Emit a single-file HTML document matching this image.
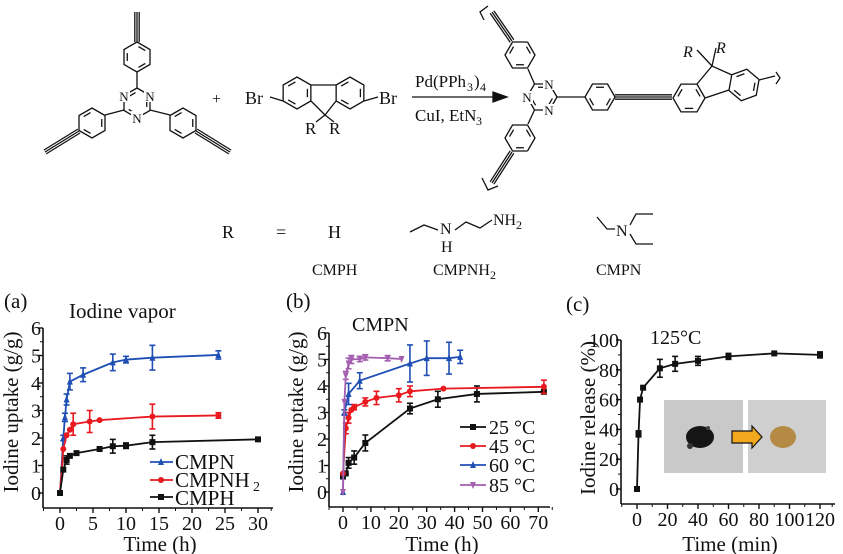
<!DOCTYPE html>
<html><head><meta charset="utf-8"><style>
html,body{margin:0;padding:0;background:#fff;font-family:"Liberation Serif","Times New Roman","Nimbus Roman",serif}
svg{display:block}
svg text{font-family:"Liberation Serif","Times New Roman","Nimbus Roman",serif;fill:#111}
</style></head><body>
<svg id="s" width="843" height="554" viewBox="0 0 843 554" xmlns="http://www.w3.org/2000/svg" font-family="Liberation Serif, Times New Roman, serif">
<g id="chem" stroke="#111" stroke-width="1.3" fill="none"></g>
<g text-anchor="middle" font-size="13">
<rect x="118" y="89" width="12" height="13" fill="#fff"/><rect x="144" y="89" width="12" height="13" fill="#fff"/><rect x="131" y="111" width="12" height="13" fill="#fff"/>
<text x="124" y="101">N</text><text x="150" y="101">N</text><text x="137" y="123">N</text>
<rect x="543" y="77" width="12" height="13" fill="#fff"/><rect x="543" y="104" width="12" height="13" fill="#fff"/><rect x="521" y="91" width="12" height="13" fill="#fff"/>
<text x="549" y="89">N</text><text x="549" y="115">N</text><text x="527" y="102">N</text>
</g>
<text x="212" y="104" font-size="16">+</text>
<text x="245" y="104" font-size="18">Br</text><text x="379" y="104" font-size="18">Br</text>
<text x="305" y="134" font-size="17">R</text><text x="329" y="134" font-size="17">R</text>
<text x="415" y="87" font-size="17">Pd(PPh</text><text x="467" y="91" font-size="12">3</text><text x="474" y="87" font-size="17">)</text><text x="480" y="91" font-size="12">4</text>
<text x="415" y="121" font-size="17">CuI, EtN</text><text x="476" y="125" font-size="12">3</text>
<text x="683" y="57" font-size="16" font-style="italic">R</text><text x="716" y="53" font-size="16" font-style="italic">R</text>
<text x="222" y="238" font-size="18">R</text><text x="276" y="238" font-size="18">=</text><text x="328" y="238" font-size="18">H</text>
<text x="440" y="234" font-size="16">N</text><text x="441" y="252" font-size="16">H</text>
<text x="493" y="225" font-size="16">NH</text><text x="516" y="229" font-size="12">2</text>
<text x="616" y="236" font-size="16">N</text>
<text x="312" y="275" font-size="16">CMPH</text><text x="433" y="275" font-size="16">CMPNH</text><text x="490" y="279" font-size="12">2</text><text x="596" y="275" font-size="16">CMPN</text>

<text x="4" y="308" font-size="21">(a)</text>
<text x="69" y="318" font-size="21">Iodine vapor</text>
<text x="286" y="308" font-size="21">(b)</text>
<text x="352" y="331" font-size="20">CMPN</text>
<text x="566" y="311" font-size="21">(c)</text>
<text x="650" y="344" font-size="20">125°C</text>
<text transform="translate(18,412) rotate(-90)" text-anchor="middle" font-size="21">Iodine uptake (g/g)</text>
<text transform="translate(303,412) rotate(-90)" text-anchor="middle" font-size="21">Iodine uptake (g/g)</text>
<text transform="translate(595,418) rotate(-90)" text-anchor="middle" font-size="21">Iodine release (%)</text>
<text x="160" y="551" text-anchor="middle" font-size="21">Time (h)</text>
<text x="442" y="551" text-anchor="middle" font-size="21">Time (h)</text>
<text x="730" y="551" text-anchor="middle" font-size="21">Time (min)</text>
<text x="175" y="469" font-size="21">CMPN</text>
<text x="175" y="487" font-size="21">CMPNH</text><text x="253" y="491" font-size="14">2</text>
<text x="175" y="505" font-size="21">CMPH</text>
<text x="489" y="434" font-size="20">25 °C</text>
<text x="489" y="453" font-size="20">45 °C</text>
<text x="489" y="472" font-size="20">60 °C</text>
<text x="489" y="492" font-size="20">85 °C</text>
<g id="ticks" font-size="20"></g>
<rect x="664" y="400" width="79" height="73" fill="#c9c9c9"/>
<rect x="748" y="400" width="78" height="73" fill="#cfcfcf"/>
<ellipse cx="700" cy="437" rx="14" ry="11" fill="#151515"/>
<circle cx="690" cy="446" r="3" fill="#333"/><circle cx="708" cy="428" r="2" fill="#444"/>
<ellipse cx="783" cy="437" rx="13" ry="11" fill="#b48a44"/>
<polygon points="732,431 752,431 752,426 762,437 752,448 752,443 732,443" fill="#f2a81d" stroke="#111" stroke-width="1.2"/>
<g id="plots"></g>
</svg>
<script>
const NS="http://www.w3.org/2000/svg";
function el(p,t,a){const e=document.createElementNS(NS,t);for(const k in a)e.setAttribute(k,a[k]);p.appendChild(e);return e;}
const chem=document.getElementById('chem');
function L(pts){el(chem,'polyline',{points:pts.map(p=>p.join(',')).join(' ')});}
function hex(cx,cy,r,rot,inner){const v=[];for(let i=0;i<6;i++){const a=(rot+60*i)*Math.PI/180;v.push([cx+r*Math.cos(a),cy+r*Math.sin(a)]);}
 L([...v,v[0]]);
 if(inner){for(const i of inner){const a=v[i],b=v[(i+1)%6];const s=0.75;const ax=cx+(a[0]-cx)*s,ay=cy+(a[1]-cy)*s,bx=cx+(b[0]-cx)*s,by=cy+(b[1]-cy)*s;
  L([[ax+(bx-ax)*.15,ay+(by-ay)*.15],[ax+(bx-ax)*.85,ay+(by-ay)*.85]]);}}return v;}
function tri(x1,y1,x2,y2){const dx=x2-x1,dy=y2-y1,l=Math.hypot(dx,dy),nx=-dy/l*2.2,ny=dx/l*2.2;
 L([[x1,y1],[x2,y2]]);L([[x1+nx,y1+ny],[x2+nx,y2+ny]]);L([[x1-nx,y1-ny],[x2-nx,y2-ny]]);}
hex(137,103,15,-90,[1,3,5]);
hex(137,57,15,-90,[0,2,4]); L([[137,88],[137,72]]); tri(137,42,137,12);
hex(92,123,15,-30,[0,2,4]); L([[124,110],[105,115]]); tri(79,131,45,152);
hex(183,123,15,-150,[0,2,4]); L([[150,110],[170,115]]); tri(196,131,230,152);
hex(297,93,16,-30,[0,2,4]); hex(350,93,16,-150,[0,2,4]);
L([[311,85],[336,85]]);
L([[311,101],[325,115],[336,101]]); L([[283,101],[270,97]]); L([[364,101],[378,97]]);
L([[325,115],[316,122]]);L([[325,115],[334,122]]);
L([[412,97],[500,97]]); el(chem,'polygon',{points:'507,97 493,92 493,102',fill:'#111'});
hex(542,97,15,0,[0,2,4]);
hex(600,97,15,0,[0,2,4]); L([[557,97],[585,97]]); tri(615,97,672,97);
hex(520,55,15,-60,[0,2,4]); L([[534.5,84],[528,69]]); tri(512,41,492,12);
hex(520,138,15,60,[0,2,4]); L([[534.5,110],[528,124]]); tri(512,152,492,183);
L([[488,6],[480,12],[484,20]]); L([[482,178],[488,190],[498,186]]);
hex(689,98,16,0,[1,3,5]); hex(744,85,16,-20,[0,2,4]);
L([[697,84],[712,66],[732,75]]); L([[705,98],[729,90]]);
L([[712,66],[697,50]]); L([[712,66],[716,48]]);
L([[759,80],[775,76]]); L([[776,72],[780,78],[776,84]]);
L([[410,232],[424,225],[438,230]]); L([[455,230],[466,222],[480,228],[492,220]]);
L([[597,217],[607,229],[615,229]]); L([[630,225],[636,214],[653,214]]); L([[630,234],[636,244],[653,244]]);

const P=document.getElementById('plots'),T=document.getElementById('ticks');
function axes(x0,yb,ytop,xr,xt,yt,minorX,minorY){
 el(P,'line',{x1:x0,y1:ytop,x2:x0,y2:yb,stroke:'#111','stroke-width':1.6});
 el(P,'line',{x1:x0,y1:yb,x2:xr,y2:yb,stroke:'#111','stroke-width':1.6});
 xt.forEach(([x,l])=>{el(P,'line',{x1:x,y1:yb,x2:x,y2:yb+5,stroke:'#111','stroke-width':1.4});const t=el(T,'text',{x:x,y:yb+22,'text-anchor':'middle'});t.textContent=l;});
 yt.forEach(([y,l])=>{el(P,'line',{x1:x0-5,y1:y,x2:x0,y2:y,stroke:'#111','stroke-width':1.4});const t=el(T,'text',{x:x0-2,y:y+7,'text-anchor':'end'});t.textContent=l;});
 minorX.forEach(x=>el(P,'line',{x1:x,y1:yb,x2:x,y2:yb+3,stroke:'#111','stroke-width':1}));
 minorY.forEach(y=>el(P,'line',{x1:x0-3,y1:y,x2:x0,y2:y,stroke:'#111','stroke-width':1}));
}
function mk(x,y,m,c,s){s=s||3;
 if(m=='s')el(P,'rect',{x:x-s,y:y-s,width:2*s,height:2*s,fill:c});
 else if(m=='o')el(P,'circle',{cx:x,cy:y,r:s,fill:c});
 else if(m=='^')el(P,'polygon',{points:`${x},${y-s-1} ${x-s},${y+s} ${x+s},${y+s}`,fill:c});
 else el(P,'polygon',{points:`${x},${y+s+1} ${x-s},${y-s} ${x+s},${y-s}`,fill:c});}
function series(d,fx,fy,c,m){el(P,'polyline',{points:d.map(p=>fx(p[0])+','+fy(p[1])).join(' '),fill:'none',stroke:c,'stroke-width':1.8});
 d.forEach(p=>{const x=fx(p[0]),y=fy(p[1]);if(p[2]){const a=fy(p[1]+p[2]),b=fy(p[1]-p[2]);
 el(P,'line',{x1:x,y1:a,x2:x,y2:b,stroke:c,'stroke-width':1.6});el(P,'line',{x1:x-3,y1:a,x2:x+3,y2:a,stroke:c,'stroke-width':1.6});el(P,'line',{x1:x-3,y1:b,x2:x+3,y2:b,stroke:c,'stroke-width':1.6});}
 mk(x,y,m,c);});}
const B='#1f4fb4',R='#e8191f',K='#111',U='#a45fb0';
let fx=t=>60+t*6.6,fy=v=>493-v*27.5;
axes(43,508,328,273,[0,5,10,15,20,25,30].map(t=>[fx(t),t]),[0,1,2,3,4,5,6].map(v=>[fy(v),v]),
 [-2.5,2.5,7.5,12.5,17.5,22.5,27.5,32].map(fx),[0.5,1.5,2.5,3.5,4.5,5.5].map(fy));
series([[0,0],[0.5,2,.1],[0.75,2.75,.15],[1,3.4,.2],[1.5,4.05,.3],[3.5,4.3,.25],[8,4.75,.3],[10,4.85,.12],[14,4.92,.45],[24,5.02,.15]],fx,fy,B,'^');
series([[0,0],[0.5,1.6],[1,2.1],[1.5,2.3],[2,2.5,.4],[4.5,2.6,.4],[6,2.65],[14,2.78,.45],[24,2.82,.1]],fx,fy,R,'o');
series([[0,0],[0.5,0.85],[1,1.2,.15],[1.5,1.35],[2.5,1.45],[6,1.6],[8,1.7,.25],[10,1.72,.1],[14,1.85,.25],[30,1.95]],fx,fy,K,'s');
[[462,B,'^'],[480,R,'o'],[497,K,'s']].forEach(([y,c,m])=>{el(P,'line',{x1:150,y1:y,x2:173,y2:y,stroke:c,'stroke-width':1.8});mk(161,y,m,c);});
fx=t=>343+t*2.79;fy=v=>492-v*26.5;
axes(329,507,333,550,[0,10,20,30,40,50,60,70].map(t=>[fx(t),t]),[0,1,2,3,4,5,6].map(v=>[fy(v),v]),
 [-5,5,15,25,35,45,55,65,75].map(fx),[0.5,1.5,2.5,3.5,4.5,5.5].map(fy));
series([[0,0.6,.1],[1,0.7],[2,1.1,.2],[4,1.3,.25],[8,1.85,.3],[24,3.15,.2],[34,3.5,.3],[48,3.7,.3],[72,3.78]],fx,fy,K,'s');
series([[0,0.7],[1,2.4,.2],[2,2.8,.2],[3,3.1],[4,3.2,.1],[8,3.4,.15],[12,3.55,.25],[20,3.65,.25],[24,3.8,.2],[36,3.9],[72,3.97,.25]],fx,fy,R,'o');
series([[0,0],[0.5,3,.1],[2,3.7,.4],[6,4.2,.3],[24,4.85,.7],[30,5.05,.65],[38,5.05,.6],[42,5.1,.25]],fx,fy,B,'^');
series([[0,0],[0.5,3.4],[1,4.4,.15],[2,4.85,.2],[3,5,.15],[6,5.02,.1],[8,5.08,.1],[16,5.05,.1],[21,5.02]],fx,fy,U,'v');
[[427,K,'s'],[446,R,'o'],[465,B,'^'],[485,U,'v']].forEach(([y,c,m])=>{el(P,'line',{x1:460,y1:y,x2:486,y2:y,stroke:c,'stroke-width':1.8});mk(473,y,m,c);});
fx=t=>637+t*1.525;fy=v=>489-v*1.49;
axes(621,504,340,835,[0,20,40,60,80,100,120].map(t=>[fx(t),t]),[0,20,40,60,80,100].map(v=>[fy(v),v]),
 [-10,10,30,50,70,90,110,128].map(fx),[10,30,50,70,90].map(fy));
series([[0,0],[1,37,2],[2,60],[4,68],[15,81,6],[25,84,5],[40,86,3],[60,89,2],[90,91],[120,90,2]],fx,fy,K,'s');
</script>
</body></html>
